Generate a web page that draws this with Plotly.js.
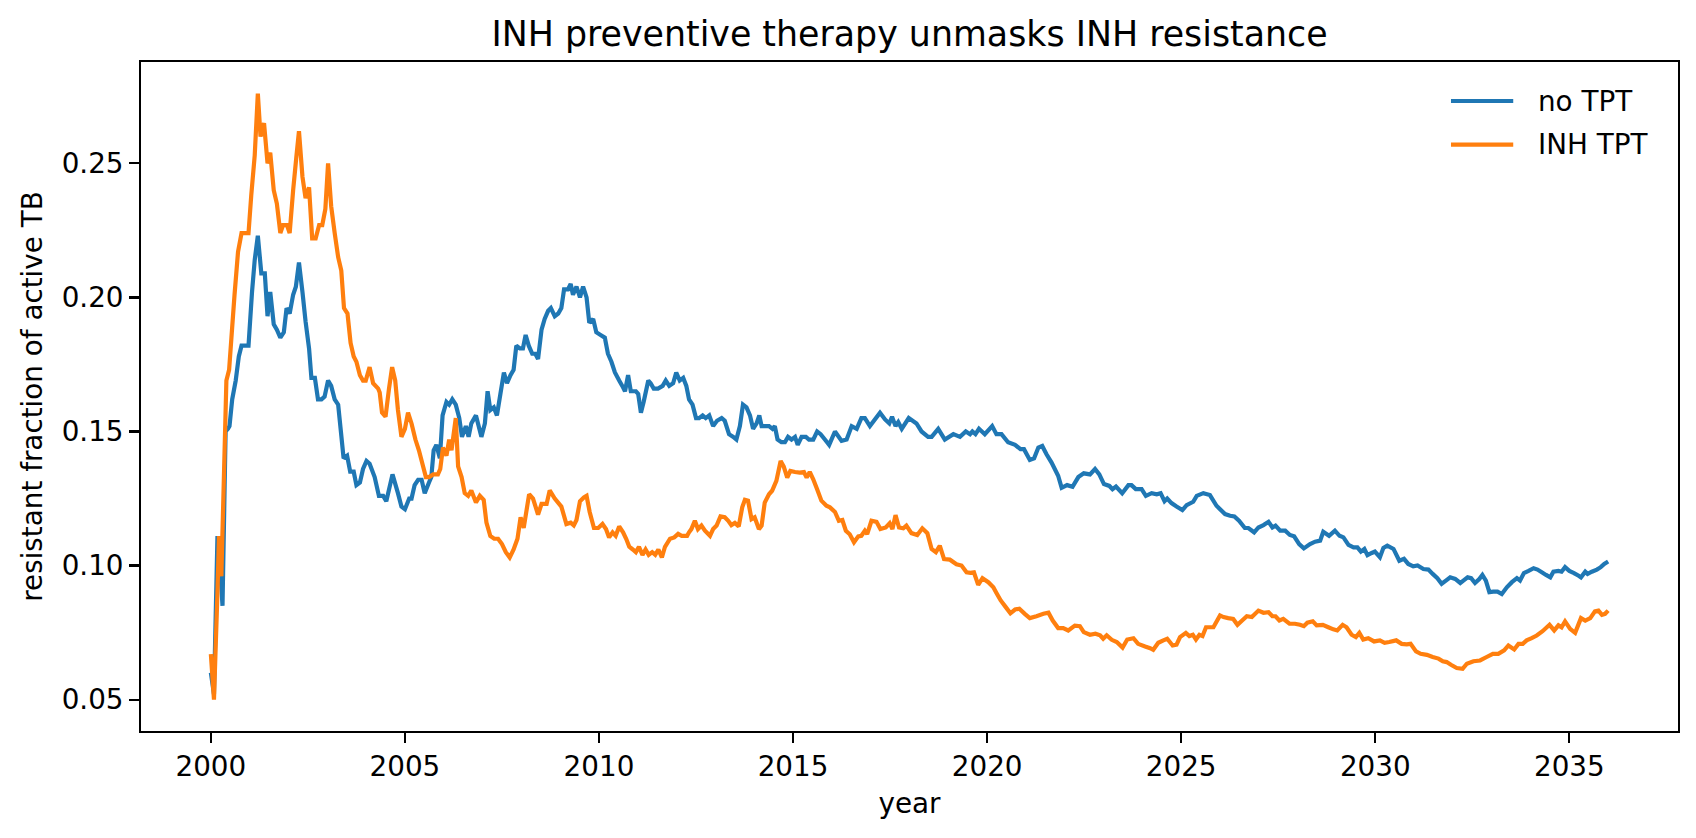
<!DOCTYPE html>
<html>
<head>
<meta charset="utf-8">
<script src="https://cdn.plot.ly/plotly-3.0.1.min.js"></script>
<style>html,body{margin:0;padding:0;background:#fff;}#chart{width:1696px;height:838px;}</style>
</head>
<body>
<div id="chart"></div>
<script>
// ---- data ----
const chartTitle = 'INH preventive therapy unmasks INH resistance';
const xAxisLabel = 'year';
const yAxisLabel = 'resistant fraction of active TB';
const seriesNames = ['no TPT', 'INH TPT'];
const seriesColors = ['#1f77b4', '#ff7f0e'];
const xTickValues = [2000, 2005, 2010, 2015, 2020, 2025, 2030, 2035];
const yTickValues = [0.05, 0.10, 0.15, 0.20, 0.25];

const noTptYears = [2000.00,2000.08,2000.17,2000.25,2000.30,2000.38,2000.44,2000.48,2000.55,2000.64,2000.72,2000.79,2000.89,2000.97,2001.06,2001.13,2001.21,2001.30,2001.39,2001.46,2001.53,2001.62,2001.70,2001.79,2001.88,2001.95,2002.03,2002.12,2002.19,2002.27,2002.36,2002.44,2002.53,2002.59,2002.68,2002.76,2002.85,2002.93,2003.02,2003.10,2003.19,2003.28,2003.35,2003.42,2003.51,2003.59,2003.68,2003.75,2003.84,2003.92,2004.01,2004.09,2004.22,2004.33,2004.44,2004.52,2004.68,2004.82,2004.91,2005.00,2005.11,2005.17,2005.25,2005.34,2005.43,2005.51,2005.62,2005.68,2005.74,2005.81,2005.90,2005.97,2006.07,2006.14,2006.22,2006.31,2006.40,2006.47,2006.57,2006.64,2006.71,2006.83,2006.97,2007.06,2007.13,2007.20,2007.29,2007.37,2007.46,2007.55,2007.63,2007.72,2007.80,2007.87,2007.96,2008.04,2008.11,2008.19,2008.28,2008.36,2008.43,2008.52,2008.60,2008.69,2008.76,2008.86,2008.95,2009.03,2009.10,2009.20,2009.27,2009.33,2009.42,2009.51,2009.59,2009.68,2009.75,2009.85,2009.93,2010.04,2010.15,2010.23,2010.32,2010.41,2010.52,2010.60,2010.67,2010.75,2010.82,2010.95,2011.01,2011.08,2011.15,2011.27,2011.33,2011.41,2011.52,2011.64,2011.72,2011.81,2011.91,2011.99,2012.08,2012.17,2012.25,2012.32,2012.41,2012.50,2012.58,2012.67,2012.75,2012.84,2012.94,2013.04,2013.16,2013.24,2013.35,2013.46,2013.54,2013.63,2013.71,2013.80,2013.89,2013.97,2014.06,2014.13,2014.19,2014.27,2014.38,2014.47,2014.53,2014.60,2014.70,2014.79,2014.87,2014.96,2015.05,2015.12,2015.22,2015.33,2015.41,2015.52,2015.62,2015.71,2015.82,2015.93,2016.08,2016.25,2016.38,2016.51,2016.64,2016.76,2016.85,2016.98,2017.24,2017.37,2017.48,2017.55,2017.64,2017.71,2017.80,2017.98,2018.18,2018.31,2018.48,2018.57,2018.74,2018.91,2019.13,2019.30,2019.45,2019.56,2019.62,2019.70,2019.79,2019.94,2020.13,2020.24,2020.37,2020.54,2020.72,2020.86,2020.95,2021.10,2021.21,2021.32,2021.42,2021.53,2021.66,2021.83,2021.92,2022.06,2022.20,2022.35,2022.49,2022.65,2022.78,2022.89,2023.01,2023.15,2023.23,2023.32,2023.48,2023.64,2023.72,2023.83,2023.98,2024.09,2024.24,2024.37,2024.47,2024.57,2024.64,2024.75,2024.88,2025.03,2025.14,2025.31,2025.40,2025.57,2025.74,2025.91,2026.13,2026.26,2026.37,2026.49,2026.64,2026.73,2026.88,2026.99,2027.12,2027.25,2027.35,2027.43,2027.55,2027.68,2027.80,2027.91,2028.04,2028.16,2028.32,2028.45,2028.58,2028.66,2028.81,2028.96,2029.08,2029.18,2029.31,2029.44,2029.54,2029.63,2029.72,2029.80,2029.91,2029.99,2030.12,2030.21,2030.31,2030.47,2030.62,2030.74,2030.85,2030.98,2031.09,2031.24,2031.37,2031.48,2031.60,2031.71,2031.82,2031.93,2032.06,2032.19,2032.27,2032.38,2032.47,2032.57,2032.68,2032.76,2032.85,2032.94,2033.04,2033.15,2033.26,2033.39,2033.52,2033.65,2033.73,2033.83,2033.95,2034.08,2034.18,2034.29,2034.40,2034.51,2034.59,2034.72,2034.80,2034.89,2035.00,2035.12,2035.24,2035.30,2035.41,2035.47,2035.58,2035.71,2035.81,2035.90,2036.00];
const noTptValues = [0.060,0.052,0.111,0.097,0.085,0.150,0.151,0.152,0.162,0.169,0.178,0.182,0.182,0.182,0.202,0.214,0.223,0.209,0.209,0.193,0.202,0.190,0.188,0.185,0.187,0.196,0.194,0.201,0.204,0.213,0.202,0.191,0.181,0.170,0.170,0.162,0.162,0.163,0.169,0.167,0.162,0.160,0.150,0.140,0.141,0.135,0.135,0.130,0.131,0.136,0.139,0.138,0.133,0.126,0.126,0.124,0.134,0.127,0.122,0.121,0.125,0.125,0.130,0.132,0.132,0.127,0.131,0.133,0.143,0.145,0.140,0.156,0.161,0.160,0.162,0.160,0.155,0.148,0.152,0.148,0.153,0.156,0.148,0.153,0.165,0.158,0.159,0.156,0.164,0.172,0.168,0.171,0.173,0.182,0.181,0.181,0.186,0.182,0.179,0.179,0.177,0.188,0.192,0.195,0.196,0.193,0.194,0.196,0.203,0.203,0.205,0.201,0.204,0.200,0.204,0.200,0.1905,0.192,0.187,0.186,0.185,0.179,0.176,0.172,0.169,0.167,0.165,0.171,0.165,0.165,0.164,0.157,0.161,0.169,0.168,0.166,0.166,0.167,0.169,0.167,0.168,0.172,0.169,0.170,0.167,0.162,0.160,0.155,0.155,0.156,0.155,0.156,0.152,0.154,0.155,0.154,0.149,0.148,0.147,0.152,0.160,0.159,0.156,0.151,0.153,0.156,0.152,0.152,0.152,0.151,0.152,0.147,0.146,0.146,0.148,0.147,0.148,0.145,0.148,0.148,0.147,0.147,0.150,0.149,0.147,0.145,0.150,0.1465,0.147,0.152,0.151,0.155,0.155,0.152,0.157,0.1545,0.153,0.1555,0.152,0.1535,0.151,0.155,0.153,0.150,0.148,0.148,0.151,0.147,0.149,0.148,0.150,0.149,0.150,0.149,0.151,0.149,0.152,0.149,0.149,0.146,0.145,0.1434,0.1434,0.1394,0.140,0.144,0.1446,0.1415,0.1384,0.1335,0.129,0.130,0.1294,0.133,0.1344,0.134,0.136,0.134,0.1304,0.1297,0.1285,0.1295,0.127,0.130,0.130,0.1285,0.1285,0.126,0.127,0.1266,0.127,0.124,0.125,0.1233,0.122,0.1207,0.1225,0.1238,0.126,0.127,0.1263,0.1223,0.1192,0.1186,0.1183,0.1167,0.114,0.114,0.1124,0.1142,0.1151,0.1163,0.1142,0.1149,0.113,0.113,0.1114,0.1109,0.108,0.1064,0.108,0.1089,0.1093,0.1126,0.1111,0.113,0.1111,0.1105,0.1077,0.1068,0.1068,0.1052,0.1062,0.1039,0.1047,0.1052,0.1031,0.1066,0.1074,0.1062,0.1018,0.1025,0.1006,0.0997,0.1000,0.0987,0.0985,0.0969,0.0953,0.0932,0.0944,0.0956,0.0950,0.0935,0.0944,0.0956,0.0953,0.0935,0.0950,0.0965,0.0944,0.0901,0.0903,0.0903,0.0894,0.0919,0.0938,0.0953,0.0944,0.0972,0.0980,0.0990,0.0985,0.0975,0.0965,0.0956,0.0977,0.0980,0.0977,0.0994,0.0980,0.0972,0.0962,0.0956,0.0977,0.0969,0.0977,0.0985,0.0994,0.1006,0.1015];

const inhTptYears = [2000.00,2000.08,2000.17,2000.21,2000.27,2000.40,2000.47,2000.53,2000.61,2000.70,2000.79,2000.89,2000.97,2001.04,2001.13,2001.21,2001.28,2001.37,2001.46,2001.53,2001.62,2001.70,2001.79,2001.86,2001.96,2002.03,2002.12,2002.20,2002.27,2002.36,2002.44,2002.53,2002.61,2002.70,2002.79,2002.87,2002.95,2003.02,2003.10,2003.19,2003.28,2003.36,2003.43,2003.52,2003.60,2003.68,2003.75,2003.84,2003.92,2003.99,2004.09,2004.18,2004.31,2004.35,2004.41,2004.50,2004.59,2004.67,2004.75,2004.82,2004.91,2005.00,2005.08,2005.17,2005.27,2005.36,2005.45,2005.54,2005.62,2005.73,2005.85,2005.91,2005.98,2006.07,2006.14,2006.20,2006.31,2006.37,2006.46,2006.54,2006.63,2006.71,2006.83,2006.93,2007.03,2007.10,2007.20,2007.30,2007.40,2007.50,2007.60,2007.70,2007.80,2007.90,2007.98,2008.06,2008.20,2008.30,2008.43,2008.52,2008.65,2008.73,2008.86,2009.03,2009.16,2009.27,2009.35,2009.42,2009.51,2009.61,2009.68,2009.76,2009.87,2009.98,2010.09,2010.18,2010.26,2010.35,2010.43,2010.52,2010.62,2010.70,2010.78,2010.87,2010.95,2011.03,2011.12,2011.20,2011.28,2011.37,2011.45,2011.53,2011.62,2011.70,2011.83,2011.94,2012.04,2012.13,2012.27,2012.32,2012.38,2012.47,2012.55,2012.64,2012.73,2012.86,2012.94,2013.03,2013.13,2013.24,2013.33,2013.41,2013.50,2013.60,2013.69,2013.76,2013.84,2013.93,2014.01,2014.12,2014.19,2014.27,2014.38,2014.46,2014.57,2014.68,2014.76,2014.85,2014.93,2015.05,2015.17,2015.28,2015.35,2015.43,2015.52,2015.62,2015.73,2015.86,2015.95,2016.08,2016.18,2016.27,2016.36,2016.46,2016.57,2016.68,2016.76,2016.85,2016.91,2017.02,2017.15,2017.25,2017.39,2017.49,2017.56,2017.64,2017.73,2017.84,2017.92,2018.05,2018.20,2018.33,2018.46,2018.57,2018.68,2018.78,2018.89,2019.04,2019.21,2019.34,2019.47,2019.57,2019.66,2019.77,2019.88,2020.03,2020.16,2020.24,2020.35,2020.48,2020.60,2020.72,2020.83,2020.97,2021.10,2021.27,2021.45,2021.58,2021.69,2021.83,2021.96,2022.09,2022.26,2022.39,2022.49,2022.65,2022.79,2022.91,2022.99,2023.08,2023.21,2023.34,2023.49,2023.61,2023.77,2023.89,2024.07,2024.20,2024.28,2024.41,2024.54,2024.64,2024.78,2024.88,2024.97,2025.12,2025.21,2025.30,2025.38,2025.47,2025.55,2025.64,2025.83,2026.00,2026.09,2026.21,2026.34,2026.45,2026.57,2026.69,2026.82,2026.99,2027.12,2027.25,2027.35,2027.43,2027.53,2027.63,2027.79,2027.93,2028.06,2028.16,2028.25,2028.39,2028.49,2028.65,2028.79,2028.92,2029.02,2029.16,2029.26,2029.39,2029.50,2029.59,2029.69,2029.82,2029.97,2030.12,2030.24,2030.36,2030.54,2030.68,2030.81,2030.91,2031.05,2031.17,2031.33,2031.48,2031.63,2031.74,2031.84,2031.95,2032.10,2032.25,2032.36,2032.53,2032.70,2032.87,2033.03,2033.17,2033.32,2033.43,2033.58,2033.69,2033.80,2033.90,2034.03,2034.16,2034.31,2034.49,2034.61,2034.72,2034.80,2034.89,2035.02,2035.15,2035.30,2035.41,2035.54,2035.66,2035.75,2035.84,2035.92,2036.00];
const inhTptValues = [0.067,0.050,0.090,0.111,0.096,0.169,0.173,0.185,0.201,0.217,0.224,0.224,0.224,0.238,0.253,0.276,0.260,0.265,0.250,0.254,0.240,0.235,0.224,0.227,0.227,0.224,0.240,0.252,0.262,0.245,0.237,0.241,0.222,0.222,0.227,0.227,0.233,0.250,0.234,0.224,0.215,0.210,0.196,0.194,0.183,0.178,0.176,0.171,0.169,0.169,0.174,0.168,0.166,0.1645,0.157,0.1555,0.166,0.174,0.169,0.158,0.148,0.151,0.157,0.153,0.147,0.143,0.138,0.133,0.133,0.134,0.134,0.136,0.144,0.141,0.147,0.143,0.155,0.137,0.133,0.127,0.126,0.128,0.1235,0.126,0.1245,0.116,0.111,0.110,0.110,0.108,0.105,0.103,0.106,0.110,0.118,0.114,0.1266,0.125,0.119,0.123,0.123,0.128,0.125,0.122,0.1155,0.116,0.115,0.117,0.124,0.1254,0.126,0.120,0.114,0.114,0.1155,0.1136,0.1105,0.1124,0.1111,0.1146,0.1124,0.110,0.107,0.106,0.105,0.107,0.104,0.106,0.104,0.105,0.104,0.106,0.103,0.107,0.110,0.1105,0.1118,0.1111,0.1111,0.1124,0.1136,0.1167,0.1136,0.1149,0.113,0.1111,0.1136,0.1149,0.1183,0.118,0.1167,0.1151,0.1159,0.1146,0.1217,0.1245,0.1242,0.1173,0.118,0.1136,0.1149,0.1235,0.1266,0.1279,0.1316,0.139,0.1369,0.1328,0.1353,0.1349,0.1347,0.1349,0.1328,0.1349,0.1322,0.1285,0.1242,0.1223,0.1217,0.120,0.1167,0.117,0.113,0.1117,0.1087,0.1109,0.1111,0.113,0.1117,0.1167,0.1163,0.1136,0.1142,0.1158,0.1136,0.1188,0.1142,0.1139,0.1149,0.1121,0.1114,0.1139,0.1121,0.1062,0.105,0.1074,0.1024,0.1022,0.1005,0.100,0.0975,0.0973,0.0975,0.0928,0.0953,0.0938,0.0919,0.0898,0.087,0.0845,0.0822,0.0836,0.0839,0.082,0.0804,0.0811,0.082,0.0824,0.0795,0.0767,0.0767,0.0758,0.0776,0.0774,0.0752,0.0742,0.0746,0.074,0.0727,0.074,0.0723,0.0715,0.0694,0.0724,0.0729,0.0708,0.0698,0.0692,0.0686,0.0712,0.0721,0.0727,0.0702,0.0705,0.0733,0.0749,0.0737,0.0742,0.0724,0.0742,0.0737,0.077,0.077,0.0814,0.0808,0.0804,0.0801,0.0779,0.0795,0.0811,0.0808,0.0832,0.0824,0.0826,0.0811,0.0811,0.0795,0.0801,0.0783,0.0783,0.0779,0.0774,0.0787,0.0792,0.0777,0.0779,0.077,0.0762,0.0758,0.0779,0.077,0.0742,0.0733,0.0749,0.0724,0.0729,0.0717,0.0721,0.0712,0.0715,0.0721,0.0708,0.0706,0.0708,0.068,0.0671,0.0667,0.0659,0.0653,0.0643,0.064,0.063,0.0618,0.0615,0.0634,0.0643,0.0646,0.0659,0.0671,0.0671,0.0684,0.0702,0.0687,0.0708,0.0708,0.0721,0.0729,0.0739,0.0755,0.0779,0.0758,0.0777,0.077,0.0792,0.0764,0.0749,0.0804,0.0795,0.0804,0.0829,0.0832,0.0816,0.082,0.0832];

// ---- chart ----
const FONT = 'DejaVu Sans, Liberation Sans, sans-serif';
const traces = [
  {x: noTptYears, y: noTptValues, name: seriesNames[0], type: 'scatter', mode: 'lines',
   line: {color: seriesColors[0], width: 4.2, simplify: false}, showlegend: false},
  {x: inhTptYears, y: inhTptValues, name: seriesNames[1], type: 'scatter', mode: 'lines',
   line: {color: seriesColors[1], width: 4.2, simplify: false}, showlegend: false}
];

const axisCommon = {
  showline: true, linecolor: 'black', linewidth: 2.2, mirror: true,
  showgrid: false, zeroline: false,
  ticks: 'outside', ticklen: 9.7, tickwidth: 2.2, tickcolor: 'black',
  tickfont: {family: FONT, size: 27.8, color: 'black'}
};

// legend (matplotlib style, frameless, upper right) drawn in paper coordinates
const legendLineX = [0.8523, 0.8928];
const legendTextX = 0.9075;
const legendRowY = [0.9417, 0.8764];
const legendShapes = seriesNames.map((n, i) => ({
  type: 'line', xref: 'paper', yref: 'paper',
  x0: legendLineX[0], x1: legendLineX[1], y0: legendRowY[i], y1: legendRowY[i],
  line: {color: seriesColors[i], width: 4.2}
}));
const legendTexts = seriesNames.map((n, i) => ({
  text: n, xref: 'paper', yref: 'paper', x: legendTextX, y: legendRowY[i],
  xanchor: 'left', yanchor: 'middle', showarrow: false,
  font: {family: FONT, size: 27.8, color: 'black'}
}));

const layout = {
  width: 1696, height: 838,
  margin: {l: 141, r: 18, t: 62, b: 107, pad: 0},
  paper_bgcolor: 'white', plot_bgcolor: 'white',
  font: {family: FONT, size: 27.8, color: 'black'},
  title: {text: chartTitle, font: {family: FONT, size: 34.8, color: 'black'},
          x: 0.5, xref: 'paper', xanchor: 'center', y: 1 - 34/838, yref: 'container', yanchor: 'middle'},
  xaxis: Object.assign({}, axisCommon, {
    range: [1998.2, 2037.8], tickvals: xTickValues, ticktext: xTickValues.map(String),
    title: {text: xAxisLabel, standoff: 11, font: {family: FONT, size: 27.8, color: 'black'}}
  }),
  yaxis: Object.assign({}, axisCommon, {
    range: [0.0383, 0.2878], tickvals: yTickValues, ticktext: yTickValues.map(v => v.toFixed(2)),
    title: {text: yAxisLabel, standoff: 11, font: {family: FONT, size: 27.8, color: 'black'}}
  }),
  showlegend: false,
  shapes: legendShapes,
  annotations: legendTexts
};

Plotly.newPlot('chart', traces, layout, {displayModeBar: false, staticPlot: true});
</script>
</body>
</html>
